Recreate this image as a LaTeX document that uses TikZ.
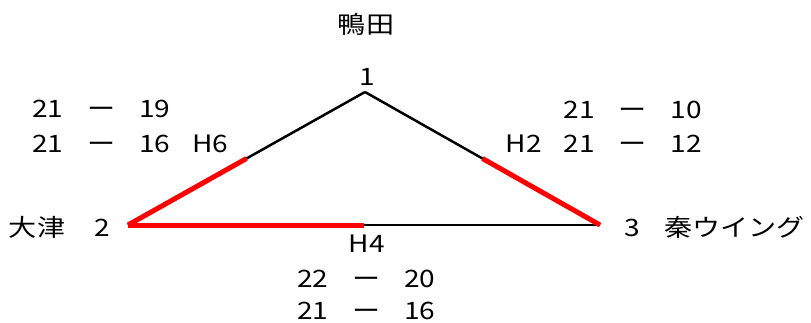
\documentclass[tikz,border=0pt]{standalone}
\usepackage{fontspec}
\newfontfamily\jpfont[FakeStretch=1.17]{Noto Sans CJK JP}
\usetikzlibrary{calc}
\newcommand{\gd}{\hspace{24pt}}
\newcommand{\gh}{\hspace{22pt}}
\begin{document}
\begin{tikzpicture}[x=1pt,y=-1pt,
  lbl/.style={inner sep=0pt,outer sep=0pt,font=\jpfont\fontsize{24}{30}\selectfont},
  edge/.style={draw=black,line width=2.5pt},
  win/.style={draw=red,line width=5pt}]
\useasboundingbox (0,0) rectangle (811,322);
\coordinate (v1) at (365,92);
\coordinate (v2) at (128,225);
\coordinate (v3) at (600,225);
% edges
\draw[edge] (v1) -- (v2);
\draw[edge] (v1) -- (v3);
\draw[edge] (v2) -- (v3);
\draw[win] (v2) -- ($(v2)!0.5!(v1)$);
\draw[win] ($(v1)!0.5!(v3)$) -- (v3);
\draw[win] (v2) -- ($(v2)!0.5!(v3)$);
% labels
\node[lbl,anchor=base] (n1) at (367,85) {1};
\node[lbl,anchor=base] (t1) at (366,33) {鴨田};
\node[lbl,anchor=base west] (t2) at (9,236) {大津\hspace{29pt}2};
\node[lbl,anchor=base west] (t3) at (624,236) {3\hspace{25pt}秦ウイング};
\node[lbl,anchor=base west] (s12a) at (32,117) {21\gd ー\gd 19};
\node[lbl,anchor=base west] (s12b) at (32,152) {21\gd ー\gd 16\gh H6};
\node[lbl,anchor=base east] (s13a) at (702,118) {21\gd ー\gd 10};
\node[lbl,anchor=base east] (s13b) at (702,152) {H2\gh 21\gd ー\gd 12};
\node[lbl,anchor=base] (h4) at (367,252) {H4};
\node[lbl,anchor=base west] (s23a) at (297,287) {22\gd ー\gd 20};
\node[lbl,anchor=base west] (s23b) at (297,319) {21\gd ー\gd 16};
\end{tikzpicture}
\end{document}
